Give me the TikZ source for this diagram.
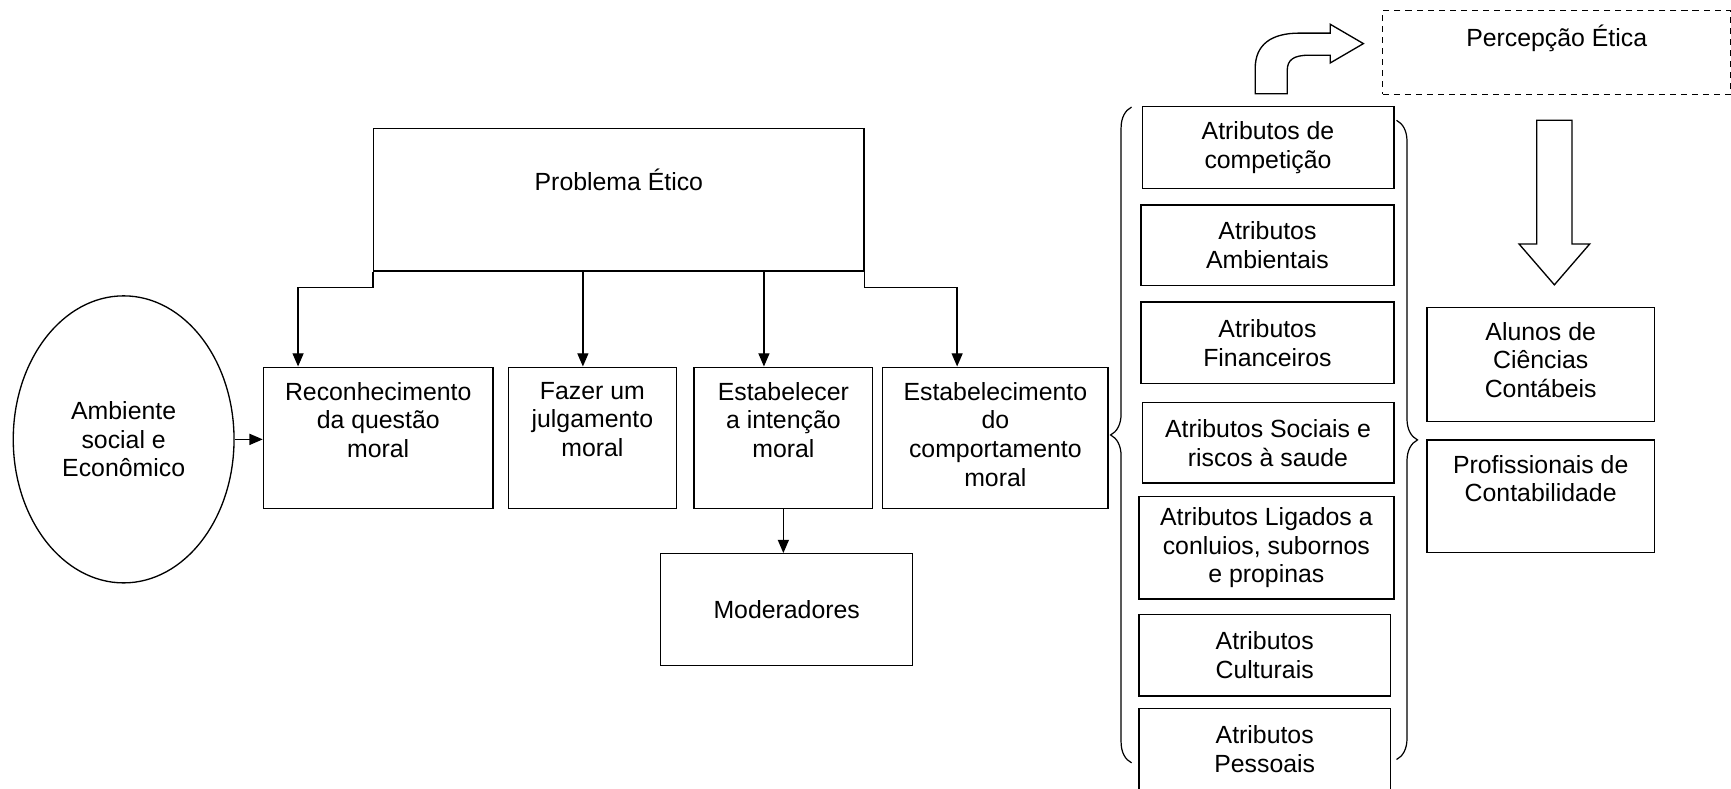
\documentclass[tikz,border=0pt]{standalone}
\usepackage{fontspec}
\setmainfont{Liberation Sans}
\usetikzlibrary{positioning,shapes.geometric,arrows.meta,decorations.pathreplacing}

\begin{document}
\begin{tikzpicture}[x=1pt,y=-1pt,
        font=\fontsize{22.5}{26}\selectfont,
        caixa/.style={draw,line width=1.2pt,inner sep=0pt,anchor=north west,align=center},
        rotulo/.style={inner sep=0pt,align=center},
        seta/.style={line width=1.2pt,-{Triangle[length=12pt,width=10pt]}},
        chave/.style={line width=1.1pt,decorate,decoration={brace,amplitude=19pt}},
        bloco/.style={draw,line width=1.2pt,line join=miter}]
    \useasboundingbox (0,0) rectangle (1568,714);

    % modelo do lado esquerdo
    \node[draw,ellipse,line width=1.2pt,minimum width=200pt,minimum height=260pt,
        inner sep=0pt,align=center] (amb) at (112,398) {Ambiente\\social e\\Econômico};
    \node[caixa,minimum width=444pt,minimum height=129pt] (prob) at (338,116) {};
    \node[rotulo,below=37pt of prob.north] (prob-t) {Problema Ético};

    \node[caixa,minimum width=208pt,minimum height=128pt] (reco) at (238,332) {};
    \node[rotulo,below=14pt of reco.north] (reco-t) {Reconhecimento\\da questão\\moral};
    \node[caixa,minimum width=152pt,minimum height=128pt] (fazer) at (460,332) {};
    \node[rotulo,below=14pt of fazer.north] (fazer-t) {Fazer um\\julgamento\\moral};
    \node[caixa,minimum width=162pt,minimum height=128pt] (inten) at (628,332) {};
    \node[rotulo,below=14pt of inten.north] (inten-t) {Estabelecer\\a intenção\\moral};
    \node[caixa,minimum width=204pt,minimum height=128pt] (compo) at (799,332) {};
    \node[rotulo,below=14pt of compo.north] (compo-t) {Estabelecimento\\do\\comportamento\\moral};
    \node[caixa,minimum width=228pt,minimum height=101pt] (mod) at (598,501) {Moderadores};

    \coordinate (fz) at ([xshift=68pt]fazer.north west);
    \coordinate (it) at ([xshift=64pt]inten.north west);
    \draw[seta] (prob.south west) -- ++(0,14) -| ([xshift=32pt]reco.north west);
    \draw[seta] (prob.south -| fz) -- (fz);
    \draw[seta] (prob.south -| it) -- (it);
    \draw[seta] (prob.south east) -- ++(0,14) -| ([xshift=68pt]compo.north west);
    \draw[seta] (amb.east) -- (amb.east -| reco.west);
    \draw[seta] (inten.south) -- (inten.south |- mod.north);

    % atributos
    \node[caixa,minimum width=228pt,minimum height=74pt] (competi) at (1034,96) {Atributos de\\competição};
    \node[caixa,minimum width=229pt,minimum height=73pt] (ambient) at (1033,185) {Atributos\\Ambientais};
    \node[caixa,minimum width=229pt,minimum height=74pt] (financ) at (1033,273) {Atributos\\Financeiros};
    \node[caixa,minimum width=228pt,minimum height=73pt] (social) at (1034,364) {Atributos Sociais e\\riscos à saude};
    \node[caixa,minimum width=231pt,minimum height=93pt] (ligado) at (1031,449) {Atributos Ligados a\\conluios, subornos\\e propinas};
    \node[caixa,minimum width=228pt,minimum height=74pt] (cultur) at (1031,556) {Atributos\\Culturais};
    \node[caixa,minimum width=228pt,minimum height=74pt] (pessoa) at (1031,641) {Atributos\\Pessoais};
    \draw[chave] (1025,691) -- (1025,97);
    \draw[chave] (1265,109) -- (1265,688);

    % percepcao
    \node[caixa,dash pattern=on 5.5pt off 4.5pt,minimum width=315pt,minimum height=76pt] (perc) at (1252,9) {};
    \node[rotulo,below=13pt of perc.north] (perc-t) {Percepção Ética};
    \draw[bloco] (1137,85) -- (1137,62) .. controls (1137,40) and (1152,30) .. (1177,30)
        -- (1205,30) -- (1205,22) -- (1235,39.5) -- (1205,57) -- (1205,50) -- (1186,50)
        .. controls (1172,50) and (1166,54) .. (1166,64) -- (1166,85) -- cycle;
    \draw[bloco] (1392,109) -- (1424,109) -- (1424,221) -- (1440,221) -- (1408,258)
        -- (1376,221) -- (1392,221) -- cycle;

    \node[caixa,minimum width=206pt,minimum height=103pt] (alunos) at (1292,278) {};
    \node[rotulo,below=13.5pt of alunos.north] (alunos-t) {Alunos de\\Ciências\\Contábeis};
    \node[caixa,minimum width=206pt,minimum height=102pt] (profis) at (1292,398) {};
    \node[rotulo,below=14pt of profis.north] (profis-t) {Profissionais de\\Contabilidade};
\end{tikzpicture}
\end{document}
